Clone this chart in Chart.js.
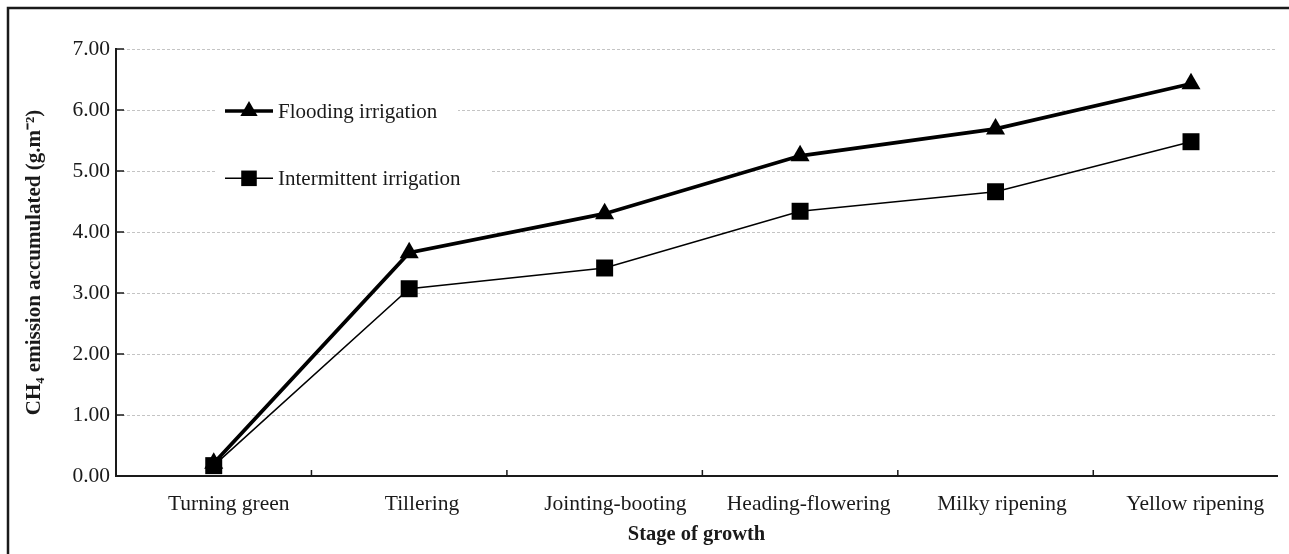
<!DOCTYPE html>
<html>
<head>
<meta charset="utf-8">
<title>CH4 emission accumulated</title>
<script src="https://cdn.jsdelivr.net/npm/chart.js@4/dist/chart.umd.min.js"></script>
<style>
  html, body { margin: 0; padding: 0; background: #fff; }
  #wrap { position: relative; width: 1289px; height: 554px; }
</style>
</head>
<body>
<div id="wrap"><canvas id="chart"></canvas></div>
<script>
// growth stages on the x axis
const stages = ["Turning green", "Tillering", "Jointing-booting", "Heading-flowering", "Milky ripening", "Yellow ripening"];
// accumulated CH4 emission, g.m-2
const flooding = [0.21, 3.66, 4.30, 5.25, 5.69, 6.43];
const intermittent = [0.17, 3.07, 3.41, 4.34, 4.66, 5.48];
const yTicks = [0, 1, 2, 3, 4, 5, 6, 7];

const serif = "'Liberation Serif', 'Times New Roman', serif";
const ink = "#1a1a1a";

const toPoints = (arr) => arr.map((v, i) => ({ x: i, y: v }));

// frame, inward tick marks and the boxed legend
const extras = {
  id: "extras",
  beforeDraw(chart) {
    const ctx = chart.ctx;
    ctx.save();
    ctx.strokeStyle = ink;
    ctx.lineWidth = 2.5;
    ctx.beginPath();
    ctx.moveTo(8, chart.height);
    ctx.lineTo(8, 8);
    ctx.lineTo(chart.width, 8);
    ctx.stroke();
    ctx.restore();
  },
  afterDatasetsDraw(chart) {
    const ctx = chart.ctx;
    const xs = chart.scales.x;
    const ys = chart.scales.y;
    const area = chart.chartArea;
    ctx.save();
    ctx.strokeStyle = ink;
    ctx.lineWidth = 1.5;
    ctx.beginPath();
    for (let i = 0; i < stages.length - 1; i++) {
      const px = xs.getPixelForValue(i + 0.5);
      ctx.moveTo(px, area.bottom);
      ctx.lineTo(px, area.bottom - 6);
    }
    yTicks.slice(1).forEach((v) => {
      const py = ys.getPixelForValue(v);
      ctx.moveTo(area.left, py);
      ctx.lineTo(area.left + 8, py);
    });
    ctx.stroke();

    // legend
    const items = [
      { label: "Flooding irrigation", width: 3.5, style: "triangle", radius: 10, y: ys.getPixelForValue(6) + 1, box: 242 },
      { label: "Intermittent irrigation", width: 1.5, style: "rect", radius: 11, y: ys.getPixelForValue(4.88), box: 276 },
    ];
    ctx.font = "21px " + serif;
    ctx.textBaseline = "middle";
    items.forEach((it) => {
      ctx.fillStyle = "#fff";
      ctx.fillRect(216, it.y - 10, it.box, 22);
      ctx.strokeStyle = "#000";
      ctx.lineWidth = it.width;
      ctx.beginPath();
      ctx.moveTo(225, it.y);
      ctx.lineTo(273, it.y);
      ctx.stroke();
      ctx.fillStyle = "#000";
      Chart.helpers.drawPoint(ctx, { pointStyle: it.style, radius: it.radius, rotation: 0, borderWidth: 0 }, 249, it.y);
      ctx.fillStyle = ink;
      ctx.fillText(it.label, 278, it.y + 1);
    });
    ctx.restore();
  },
};

new Chart(document.getElementById("chart"), {
  type: "line",
  data: {
    datasets: [
      {
        label: "Intermittent irrigation",
        data: toPoints(intermittent),
        borderColor: "#000",
        backgroundColor: "#000",
        borderWidth: 1.5,
        pointStyle: "rect",
        pointRadius: 12,
        pointHoverRadius: 12,
        pointBorderWidth: 0,
        tension: 0,
      },
      {
        label: "Flooding irrigation",
        data: toPoints(flooding),
        borderColor: "#000",
        backgroundColor: "#000",
        borderWidth: 3.8,
        pointStyle: "triangle",
        pointRadius: 11,
        pointHoverRadius: 11,
        pointBorderWidth: 0,
        tension: 0,
      },
    ],
  },
  options: {
    responsive: true,
    maintainAspectRatio: false,
    animation: false,
    layout: { padding: { top: 49, right: 9, left: 0, bottom: 0 } },
    plugins: {
      legend: { display: false },
      tooltip: { enabled: false },
    },
    scales: {
      // data axis (hidden), the labels sit on their own slightly tighter axis below
      x: {
        type: "linear",
        display: false,
        min: -0.5,
        max: 5.44,
      },
      xl: {
        type: "linear",
        position: "bottom",
        min: -0.583,
        max: 5.423,
        afterBuildTicks: (scale) => {
          scale.ticks = stages.map((s, i) => ({ value: i }));
        },
        afterFit: (scale) => { scale.height = 78; },
        ticks: {
          callback: (v) => stages[v],
          font: { family: serif, size: 21.5 },
          color: ink,
          padding: 15,
          maxRotation: 0,
          autoSkip: false,
        },
        grid: { display: false, drawTicks: false },
        border: { display: true, color: ink, width: 2 },
        title: {
          display: true,
          text: "Stage of growth",
          font: { family: serif, size: 20.5, weight: "bold" },
          color: ink,
          padding: { top: 0, bottom: 7 },
        },
      },
      y: {
        min: 0,
        max: 7,
        afterBuildTicks: (scale) => {
          scale.ticks = yTicks.map((v) => ({ value: v }));
        },
        afterFit: (scale) => { scale.width = 116; },
        ticks: {
          callback: (v) => v.toFixed(2),
          font: { family: serif, size: 21.5 },
          color: ink,
          padding: 6,
        },
        grid: { color: "#c4c4c4", lineWidth: 1, drawTicks: false },
        border: { display: true, color: ink, width: 2, dash: [3, 2] },
        title: {
          display: true,
          text: "CH₄ emission accumulated (g.m⁻²)",
          font: { family: serif, size: 21, weight: "bold" },
          color: ink,
          padding: { top: 22, bottom: 0 },
        },
      },
    },
  },
  plugins: [extras],
});
</script>
</body>
</html>
